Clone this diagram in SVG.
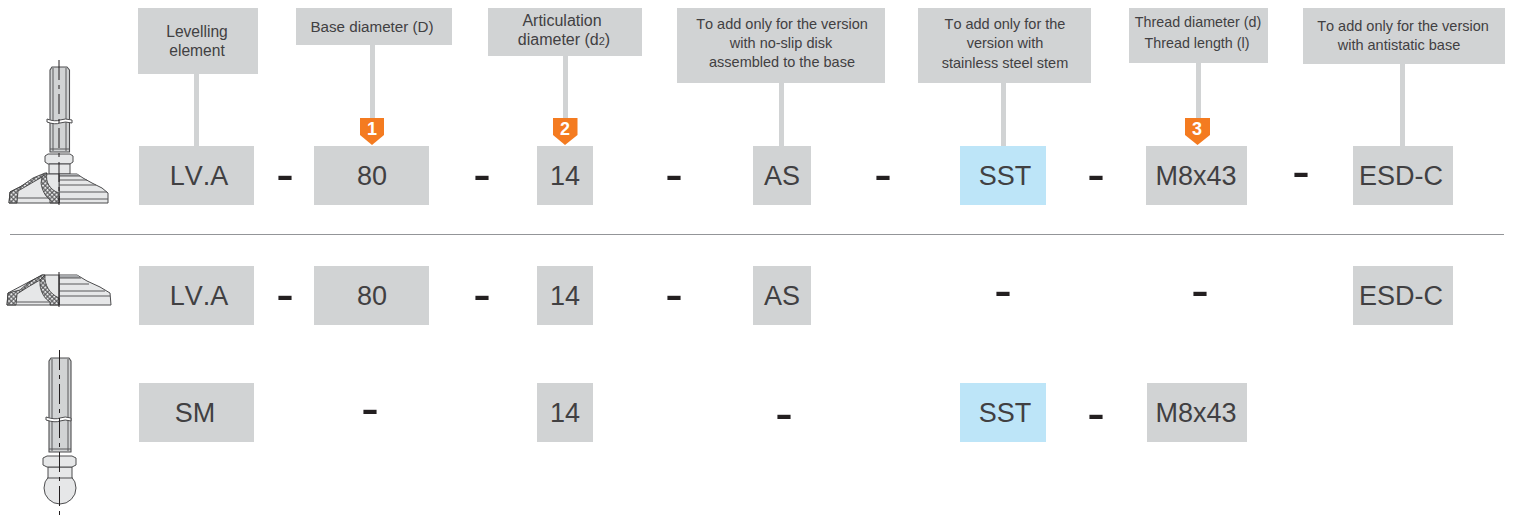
<svg xmlns="http://www.w3.org/2000/svg" width="1514" height="517" viewBox="0 0 1514 517">
<style>
text{font-family:"Liberation Sans",Arial,sans-serif;text-anchor:middle;font-kerning:none}
.lb{fill:#d1d3d4}
.bl{fill:#bde5f8}
.t{font-size:14.5px;fill:#414042}
.c{font-size:27px;fill:#414042}
.d{font-size:54px;fill:#231f20}
.n{font-size:18px;font-weight:bold;fill:#fff}
.o{fill:#f47b20}
.s{fill:#d1d3d4;stroke:#4d4d4f;stroke-width:1.1;stroke-linejoin:round}
.l{fill:#e6e7e8;stroke:#4d4d4f;stroke-width:1;stroke-linejoin:round}
.th{fill:none;stroke:#58595b;stroke-width:1}
.cl{fill:none;stroke:#231f20;stroke-width:1;stroke-dasharray:20 5 4 5}
.h{fill:url(#hatch);stroke:#333;stroke-width:.8}
.br{fill:#fff;stroke:#4d4d4f;stroke-width:1}
</style>
<defs>
<pattern id="hatch" width="3.2" height="3.2" patternUnits="userSpaceOnUse" patternTransform="rotate(45)"><rect width="3.2" height="3.2" fill="#4d4d4f"/><rect x=".6" y=".6" width="2.2" height="2.2" fill="#e6e7e8"/></pattern>
</defs>
<g id="connectors" fill="#d1d3d4">
<rect x="194" y="70" width="5" height="78"/>
<rect x="370" y="40" width="5" height="80"/>
<rect x="563" y="50" width="5" height="70"/>
<rect x="779" y="80" width="5" height="68"/>
<rect x="1001" y="80" width="5" height="68"/>
<rect x="1196" y="60" width="5" height="60"/>
<rect x="1400" y="60" width="5" height="88"/>
</g>
<g id="label-element"><rect class="lb" x="138" y="8" width="120" height="66"/><text class="t" style="font-size:15.6px" x="197" y="37">Levelling</text><text class="t" style="font-size:15.6px" x="197" y="56">element</text></g>
<g id="label-base"><rect class="lb" x="296" y="8" width="156" height="37"/><text class="t" style="font-size:15.2px" x="372" y="32">Base diameter (D)</text></g>
<g id="label-articulation"><rect class="lb" x="488" y="8" width="154" height="48"/><text class="t" style="font-size:16px" x="562" y="26">Articulation</text><text class="t" style="font-size:16px" x="564" y="45">diameter (d<tspan font-size="11">2</tspan>)</text></g>
<g id="label-noslip"><rect class="lb" x="677" y="8" width="208" height="75"/><text class="t" x="782" y="29">To add only for the version</text><text class="t" x="781" y="48">with no-slip disk</text><text class="t" x="782" y="67">assembled to the base</text></g>
<g id="label-stainless"><rect class="lb" x="918" y="8" width="173" height="75"/><text class="t" x="1005" y="29">To add only for the</text><text class="t" x="1005" y="48">version with</text><text class="t" x="1005" y="68">stainless steel stem</text></g>
<g id="label-thread"><rect class="lb" x="1129" y="8" width="139" height="55"/><text class="t" style="font-size:14.3px" x="1198" y="27">Thread diameter (d)</text><text class="t" style="font-size:14.3px" x="1197" y="48">Thread length (l)</text></g>
<g id="label-esd"><rect class="lb" x="1303" y="8" width="202" height="56"/><text class="t" x="1403" y="31">To add only for the version</text><text class="t" x="1399" y="50">with antistatic base</text></g>
<g id="badge-1"><path class="o" d="M360 118H384V135L372 145L360 135Z"/><text class="n" x="372" y="135">1</text></g>
<g id="badge-2"><path class="o" d="M553 118H577.500V135L565 145L553 135Z"/><text class="n" x="565" y="135">2</text></g>
<g id="badge-3"><path class="o" d="M1185 118H1210V135L1197.500 145L1185 135Z"/><text class="n" x="1197" y="135">3</text></g>
<g id="row1">
<g id="r1-lva"><rect class="lb" x="139" y="146" width="115" height="59"/><text class="c" x="199" y="185">LV.A</text></g>
<g id="r1-80"><rect class="lb" x="314" y="146" width="115" height="59"/><text class="c" x="372" y="185">80</text></g>
<g id="r1-14"><rect class="lb" x="537" y="146" width="56" height="59"/><text class="c" x="565" y="185">14</text></g>
<g id="r1-as"><rect class="lb" x="753" y="146" width="58" height="59"/><text class="c" x="782" y="185">AS</text></g>
<g id="r1-sst"><rect class="bl" x="960" y="146" width="86" height="59"/><text class="c" x="1005" y="185">SST</text></g>
<g id="r1-m8"><rect class="lb" x="1146" y="146" width="101" height="59"/><text class="c" x="1196" y="185">M8x43</text></g>
<g id="r1-esd"><rect class="lb" x="1353" y="146" width="100" height="59"/><text class="c" x="1401" y="185">ESD-C</text></g>
</g>
<line x1="10" y1="234.500" x2="1504" y2="234.500" stroke="#939598" stroke-width="1"/>
<g id="row2">
<g id="r2-lva"><rect class="lb" x="139" y="266" width="115" height="59"/><text class="c" x="199" y="305">LV.A</text></g>
<g id="r2-80"><rect class="lb" x="314" y="266" width="115" height="59"/><text class="c" x="372" y="305">80</text></g>
<g id="r2-14"><rect class="lb" x="537" y="266" width="56" height="59"/><text class="c" x="565" y="305">14</text></g>
<g id="r2-as"><rect class="lb" x="753" y="266" width="58" height="59"/><text class="c" x="782" y="305">AS</text></g>
<g id="r2-esd"><rect class="lb" x="1353" y="266" width="100" height="59"/><text class="c" x="1401" y="305">ESD-C</text></g>
</g>
<g id="row3">
<g id="r3-sm"><rect class="lb" x="139" y="383" width="115" height="59"/><text class="c" x="195" y="422">SM</text></g>
<g id="r3-14"><rect class="lb" x="537" y="383" width="56" height="59"/><text class="c" x="565" y="422">14</text></g>
<g id="r3-sst"><rect class="bl" x="960" y="383" width="86" height="59"/><text class="c" x="1005" y="422">SST</text></g>
<g id="r3-m8"><rect class="lb" x="1147" y="383" width="100" height="59"/><text class="c" x="1196" y="422">M8x43</text></g>
</g>
<g id="dashes">
<text class="d" x="285" y="192">-</text><text class="d" x="482" y="192">-</text><text class="d" x="674" y="192">-</text><text class="d" x="883" y="192">-</text><text class="d" x="1096" y="192">-</text><text class="d" x="1301" y="189">-</text>
<text class="d" x="285" y="312">-</text><text class="d" x="482" y="312">-</text><text class="d" x="674" y="312">-</text><text class="d" x="1003" y="308">-</text><text class="d" x="1200" y="308">-</text>
<text class="d" x="370" y="426">-</text><text class="d" x="784" y="431">-</text><text class="d" x="1096" y="431">-</text>
</g>
<g id="drawing-complete">
<path class="s" d="M50 70L52 67H67L69.500 70V152H50Z"/>
<path class="th" d="M53 68V151M66 68V151M50 149H69.500"/>
<path class="br" d="M47 119Q55 122 60 120T72 120V123Q65 121 60 123T47 122Z"/>
<path class="l" d="M45 156L48 154H70L73 156V162L70 164H48L45 162Z"/>
<path class="l" d="M49 164H70V174H49Z"/>
<path class="l" d="M59 174H77L83 178L92 183L102 188L108 193V203H59Z"/>
<path d="M59 174H77L80 176H59Z" fill="#a7a9ac"/>
<path class="th" d="M59 176H80M59 180H87M59 185H96M59 192H107M59 199H108"/>
<path class="l" d="M9 203H59V174H45L10 192Z"/>
<path class="h" d="M9 203L10 192L20 187L33 178L45 173H47L42 177L30 184L18 191L17 203Z"/>
<path class="h" d="M47 173C45 182 50 190 59 193V203H50V200C45 196 42 190 41 183L42 177Z"/>
<path class="th" d="M17 198H50"/>
<path class="cl" d="M59 60V205"/>
</g>
<g id="drawing-base">
<path class="l" d="M59 275H77L87 281L100 287L110 293L111 305H59Z"/>
<path d="M59 275H77L81 278H59Z" fill="#a7a9ac"/>
<path class="th" d="M59 278H81M59 284H89M59 291H105M59 296H110"/>
<path class="l" d="M7 305H59V275H42L8 293Z"/>
<path class="h" d="M7 305L8 293L20 290L28 283L42 275H45L40 280L28 287L17 294L16 305Z"/>
<path class="h" d="M45 275C44 285 50 294 59 298V305H50V302C45 299 41 293 40 285L40 280Z"/>
<path class="th" d="M16 302H50"/>
<path d="M59 272V307" stroke="#231f20" fill="none"/>
</g>
<g id="drawing-ball">
<path class="s" d="M49 361L51 358H69L71 361V452H49Z"/>
<path class="th" d="M52 359V451M68 359V451M49 449H71"/>
<path class="br" d="M46 417Q55 420 60 418T71 418V421Q65 419 60 421T46 420Z"/>
<circle class="l" cx="60" cy="488" r="16"/>
<path class="l" d="M48 467H72V478H48Z"/>
<path class="l" d="M43 458L47 456H72L76 458V465L72 467H47L43 465Z"/>
<path class="cl" d="M59.500 350V517"/>
</g>
</svg>
